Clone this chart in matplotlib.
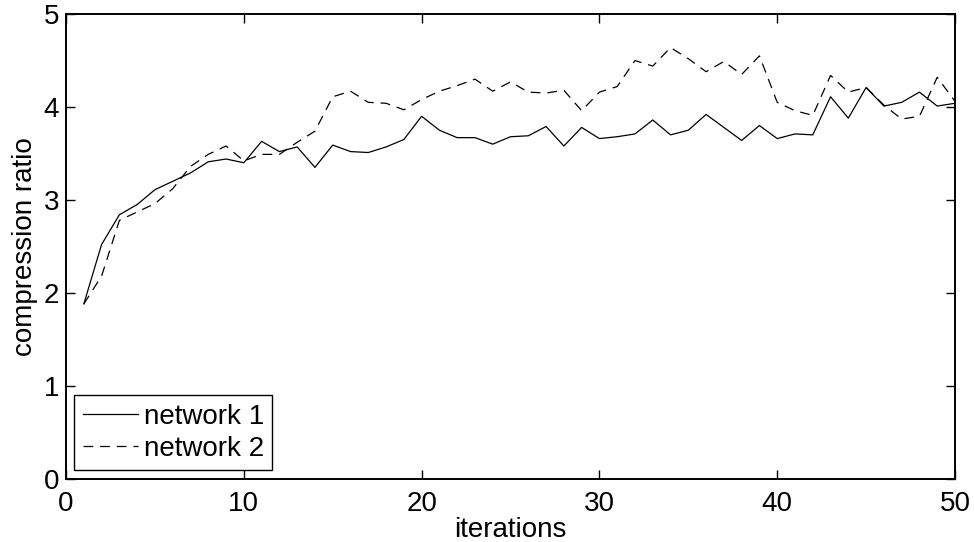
import numpy as np
import matplotlib
matplotlib.use('Agg')
import matplotlib.pyplot as plt

plt.rcParams['font.family'] = ['Liberation Sans', 'DejaVu Sans']
plt.rcParams['lines.scale_dashes'] = False

iterations = np.arange(1, 51)
network1 = [1.88, 2.52, 2.84, 2.95, 3.11, 3.20, 3.29, 3.41, 3.44, 3.40,
            3.63, 3.52, 3.57, 3.35, 3.59, 3.52, 3.51, 3.57, 3.65, 3.90,
            3.75, 3.67, 3.67, 3.60, 3.68, 3.69, 3.79, 3.58, 3.78, 3.66,
            3.68, 3.71, 3.86, 3.70, 3.75, 3.92, 3.78, 3.64, 3.80, 3.66,
            3.71, 3.70, 4.11, 3.88, 4.21, 4.01, 4.05, 4.16, 4.01, 4.04]
network2 = [1.88, 2.18, 2.78, 2.87, 2.96, 3.12, 3.36, 3.49, 3.58, 3.42,
            3.49, 3.49, 3.62, 3.74, 4.11, 4.17, 4.05, 4.04, 3.97, 4.08,
            4.17, 4.23, 4.30, 4.17, 4.27, 4.16, 4.15, 4.18, 3.96, 4.16,
            4.22, 4.50, 4.44, 4.64, 4.52, 4.38, 4.49, 4.35, 4.55, 4.05,
            3.96, 3.91, 4.34, 4.16, 4.21, 4.02, 3.87, 3.90, 4.32, 4.06]

fig = plt.figure(figsize=(9.74, 5.42), dpi=100)
fig.patch.set_color('white')
ax = fig.add_axes([0.0678, 0.117, 0.9127, 0.857])

ax.plot(iterations, network1, '-', color='k', lw=0.9, label='network 1')
ax.plot(iterations, network2, '--', color='k', lw=0.9, dashes=(7, 5), label='network 2')

ax.set_xlim(0, 50)
ax.set_ylim(0, 5)
ax.set_xticks([0, 10, 20, 30, 40, 50])
ax.set_yticks([0, 1, 2, 3, 4, 5])
ax.tick_params(direction='in', length=6.5, width=1.0, top=True, right=True,
               labelsize=20, pad=5)
ax.tick_params(axis='x', pad=9)
for s in ax.spines.values():
    s.set_linewidth(1.4)

ax.set_xlabel('iterations', fontsize=20, labelpad=0)
ax.set_ylabel('compression ratio', fontsize=20, labelpad=4)

leg = ax.legend(loc='lower left', fontsize=20, fancybox=False, framealpha=1,
                edgecolor='k', borderaxespad=0.3, handlelength=2.0,
                labelspacing=0.22, borderpad=0.3, handletextpad=0.2)
leg.get_frame().set_linewidth(1.0)

plt.savefig('out.png', dpi=100)
